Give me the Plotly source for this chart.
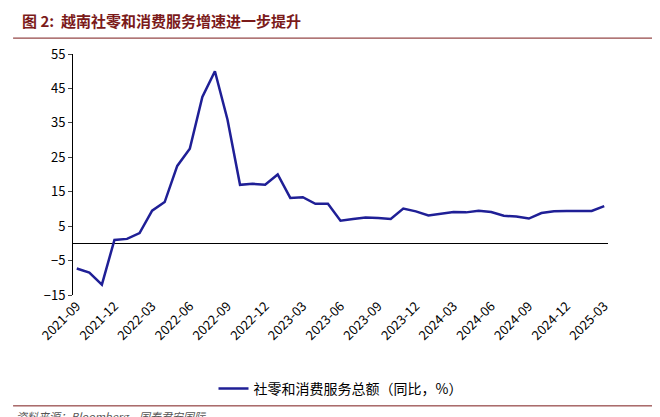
import plotly.graph_objects as go

months = ["2021-09","2021-10","2021-11","2021-12","2022-01","2022-02","2022-03","2022-04","2022-05","2022-06","2022-07","2022-08","2022-09","2022-10","2022-11","2022-12","2023-01","2023-02","2023-03","2023-04","2023-05","2023-06","2023-07","2023-08","2023-09","2023-10","2023-11","2023-12","2024-01","2024-02","2024-03","2024-04","2024-05","2024-06","2024-07","2024-08","2024-09","2024-10","2024-11","2024-12","2025-01","2025-02","2025-03"]
values = [-7.3,-8.5,-12,1,1.3,3,9.5,12,22.5,27.5,42.5,50,36,17,17.3,17,20,13.2,13.4,11.5,11.5,6.6,7.1,7.5,7.4,7.1,10.1,9.3,8.1,8.5,9.1,9.0,9.5,9.1,8,7.8,7.2,8.8,9.3,9.4,9.5,9.4,10.8]
tick_labels = months[::3]
yticks = [-15,-5,5,15,25,35,45,55]
series_name = "社零和消费服务总额（同比，%）"

fig = go.Figure()
fig.add_trace(go.Scatter(x=months, y=values, mode="lines", name=series_name,
                         line=dict(color="#1F1F96", width=2.5)))
fig.update_layout(
    width=660, height=417, plot_bgcolor="white", paper_bgcolor="white",
    font=dict(family="Noto Sans CJK SC", size=13, color="black"),
    margin=dict(l=65, r=60, t=46, b=130),
    showlegend=True,
    legend=dict(orientation="h", x=0.5, xanchor="center", y=-0.39, yanchor="middle",
                font=dict(size=14)),
    xaxis=dict(type="category", tickvals=tick_labels, ticktext=tick_labels, tickangle=-45,
               showgrid=False, showline=False, ticks="", range=[-0.3, len(months)-0.7]),
    yaxis=dict(tickvals=yticks, range=[-15, 55], showgrid=False, showline=True,
               linecolor="black", ticks="outside", ticklen=4, zeroline=True,
               zerolinecolor="black", zerolinewidth=1),
    annotations=[
        dict(text="<b>图 2:  越南社零和消费服务增速进一步提升</b>", x=-0.099, y=1.137, xref="paper", yref="paper",
             xanchor="left", yanchor="middle", showarrow=False, font=dict(size=15, color="#7B1A1A")),
        dict(text="<i>资料来源：Bloomberg，国泰君安国际</i>", x=-0.11, y=-0.50, xref="paper", yref="paper",
             xanchor="left", yanchor="middle", showarrow=False, font=dict(size=11, color="#555")),
    ],
    shapes=[
        dict(type="line", xref="paper", yref="paper", x0=-0.112, x1=1.103, y0=1.066, y1=1.066,
             line=dict(color="#7B1A1A", width=1)),
        dict(type="line", xref="paper", yref="paper", x0=-0.112, x1=1.103, y0=-0.46, y1=-0.46,
             line=dict(color="#7B1A1A", width=1)),
    ],
)
fig.write_html("out.html")
